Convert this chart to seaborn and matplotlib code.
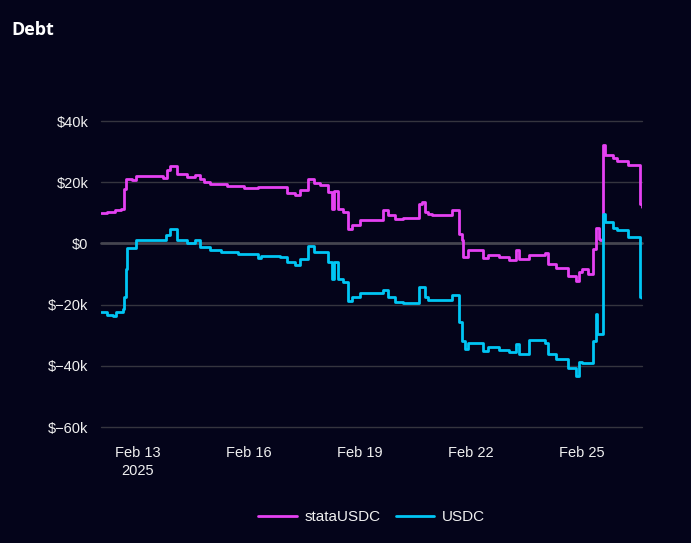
import pandas as pd
import seaborn as sns
import matplotlib.pyplot as plt

start = pd.Timestamp('2025-02-12 00:00')

# hours since start, value in $k
stata_hours = [0, 4, 9, 13, 15, 16, 20, 23, 32, 40, 43, 45, 49, 56, 61, 64, 67, 71,
               82, 93, 102, 116, 121, 126, 129, 134, 138, 142, 147, 150, 151, 154,
               157, 160, 163, 168, 183, 186, 191, 196, 206, 208, 210, 212, 215, 228,
               232, 234, 235, 238, 248, 251, 258, 265, 269, 271, 278, 288, 290, 295,
               303, 308, 310, 312, 316, 319, 321, 323, 324, 326, 327, 332, 335, 342,
               350, 351]
stata_debt = [9.9, 10.3, 10.8, 11.4, 17.7, 20.9, 20.7, 22.0, 22.1, 21.5, 23.9, 25.2,
              22.6, 21.7, 22.3, 20.9, 20.0, 19.3, 18.7, 18.2, 18.5, 18.5, 16.4, 15.7,
              17.4, 21.2, 19.6, 19.0, 16.8, 11.4, 17.2, 11.4, 10.3, 4.8, 5.9, 7.5,
              11.0, 9.4, 8.1, 8.4, 13.0, 13.5, 10.3, 9.7, 9.2, 10.8, 3.2, 1.0, -4.5,
              -2.3, -4.9, -3.9, -4.5, -5.4, -2.3, -5.0, -3.9, -3.2, -6.7, -8.0, -10.5,
              -12.4, -9.4, -8.3, -9.9, -1.7, 5.1, 1.5, 1.0, 32.1, 28.9, 27.8, 27.0,
              25.6, 13.0, 12.0]

usdc_hours = [0, 4, 8, 10, 14, 15, 16, 17, 23, 42, 45, 49, 56, 61, 64, 71, 78, 89,
              102, 104, 116, 121, 126, 129, 134, 138, 147, 150, 151, 154, 157, 160,
              163, 168, 183, 186, 191, 196, 206, 208, 210, 212, 228, 232, 234, 236,
              238, 248, 251, 258, 265, 269, 271, 278, 288, 290, 295, 303, 308, 310,
              312, 319, 321, 322, 326, 327, 332, 335, 342, 350, 351]
usdc_debt = [-22.5, -23.3, -23.8, -22.5, -21.4, -17.6, -8.3, -1.5, 1.0, 2.6, 4.6, 1.2,
             0.1, 1.2, -1.3, -2.1, -2.8, -3.6, -4.7, -4.1, -4.3, -6.2, -7.2, -5.0, -0.9,
             -2.9, -6.1, -11.6, -6.0, -11.6, -12.7, -18.7, -17.6, -16.3, -15.2, -17.6,
             -19.2, -19.6, -14.3, -14.1, -17.6, -18.5, -16.7, -25.8, -31.8, -34.5,
             -32.4, -35.1, -34.0, -34.9, -35.5, -32.9, -36.0, -31.6, -32.5, -36.0,
             -37.8, -40.6, -43.3, -38.9, -39.2, -31.8, -23.1, -29.6, 9.7, 7.0, 5.1,
             4.3, 2.1, -17.6, -18.0]

series_names = ['stataUSDC', 'USDC']
series_colors = ['#e541f2', '#00c6f4']
y_ticks = [40, 20, 0, -20, -40, -60]

bg = '#04041a'

df = pd.concat([
    pd.DataFrame({'time': start + pd.to_timedelta(stata_hours, unit='h'),
                  'debt': [v * 1000 for v in stata_debt], 'series': 'stataUSDC'}),
    pd.DataFrame({'time': start + pd.to_timedelta(usdc_hours, unit='h'),
                  'debt': [v * 1000 for v in usdc_debt], 'series': 'USDC'}),
])

sns.set_theme(style='dark')
plt.rcParams['font.family'] = ['Liberation Sans', 'DejaVu Sans']

fig = plt.figure(figsize=(6.91, 5.43), dpi=100, facecolor=bg)
ax = fig.add_axes([101 / 691, 1 - 427 / 543, 541 / 691, 306 / 543])
ax.set_facecolor(bg)

for y in y_ticks:
    if y == 0:
        ax.axhline(0, color='#45454f', lw=2, zorder=1, clip_on=False)
    else:
        ax.axhline(y * 1000, color='#35353f', lw=1, zorder=1, clip_on=False)

sns.lineplot(data=df, x='time', y='debt', hue='series', hue_order=series_names,
             palette=series_colors, drawstyle='steps-post', linewidth=2,
             ax=ax, zorder=3, legend=True)

ax.set_ylim(-60000, 40000)
ax.set_xlim(start, start + pd.Timedelta(hours=351))
ax.set_yticks([y * 1000 for y in y_ticks])
ax.set_yticklabels([f'${y}k'.replace('-', '\u2212') if y != 0 else '$0' for y in y_ticks])

xt = [pd.Timestamp(f'2025-02-{d}') for d in (13, 16, 19, 22, 25)]
ax.set_xticks(xt)
ax.set_xticklabels(['Feb 13\n2025', 'Feb 16', 'Feb 19', 'Feb 22', 'Feb 25'])
ax.tick_params(axis='x', colors='#f0f0f0', labelsize=10.5, length=0, pad=14)
ax.tick_params(axis='y', colors='#f0f0f0', labelsize=10.5, length=0, pad=9)
for lbl in ax.get_xticklabels():
    lbl.set_linespacing(1.3)
ax.set_xlabel('')
ax.set_ylabel('')
ax.grid(False)
for s in ax.spines.values():
    s.set_visible(False)

leg = ax.legend(loc='center', bbox_to_anchor=(0.5, -(517 - 427) / 306), ncol=2, frameon=False,
                fontsize=11, handlelength=2.5, columnspacing=1.0, handletextpad=0.5)
for t in leg.get_texts():
    t.set_color('#f0f0f0')
for h in leg.get_lines():
    h.set_linewidth(2)

fig.text(11 / 691, 1 - 30 / 543, 'Debt', color='white', fontsize=13, fontweight='bold',
         family=['Open Sans', 'DejaVu Sans'], va='center', ha='left')

fig.savefig('out.png', dpi=100, facecolor=bg)
